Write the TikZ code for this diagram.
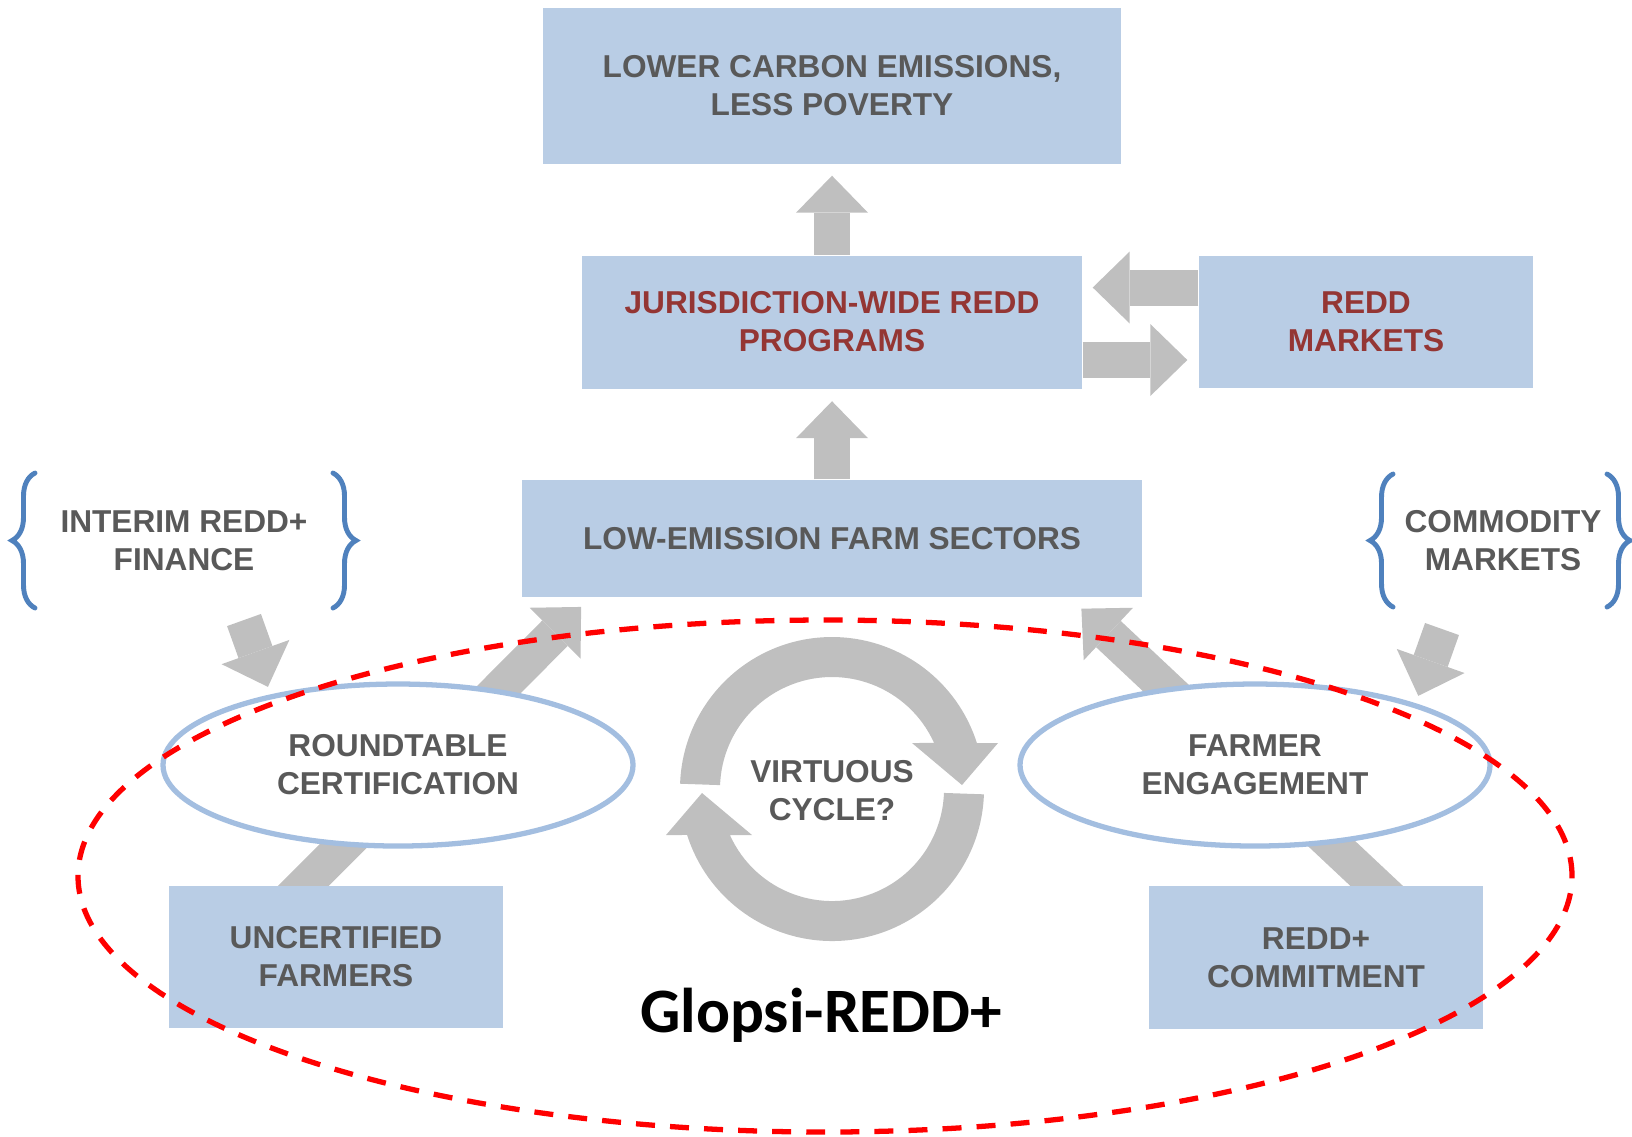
\documentclass[tikz,border=0pt]{standalone}
\usepackage{fontspec}
\setmainfont{Liberation Sans}
\newfontfamily\glopsifont{Carlito}
\usetikzlibrary{arrows.meta,decorations.pathreplacing,shapes.geometric,backgrounds}
\definecolor{boxblue}{HTML}{B9CDE5}
\definecolor{textgray}{HTML}{595959}
\definecolor{textred}{HTML}{943634}
\definecolor{arrowgray}{HTML}{BFBFBF}
\definecolor{bracecol}{HTML}{4F81BD}
\definecolor{ringblue}{HTML}{A3BEE0}

\begin{document}
\begin{tikzpicture}[
    box/.style={rectangle, fill=boxblue, inner sep=0pt, align=center, text=textgray, font=\fontsize{9}{10.8}\selectfont\bfseries},
    redbox/.style={box, text=textred},
    oval/.style={ellipse, draw=ringblue, line width=1.5pt, fill=white, minimum width=4.7cm, minimum height=1.62cm, inner sep=0pt, align=center, text=textgray, font=\fontsize{9}{10.8}\selectfont\bfseries},
    lbl/.style={align=center, inner sep=0pt, text=textgray, font=\fontsize{9}{10.8}\selectfont\bfseries},
    fatarrow/.style={draw=arrowgray, line width=0.36cm, -{Triangle[width=0.72cm,length=0.37cm,line width=0pt]}},
    curly/.style={draw=bracecol, line width=1.4pt, line cap=round, decorate, decoration={brace, amplitude=0.23cm}},
    redoval/.style={draw=red, line width=1.5pt, dash pattern=on 5.4pt off 4.3pt}
]
    \useasboundingbox (0,0) rectangle (16.32,-11.36);
    \node [box, minimum width=5.78cm, minimum height=1.56cm] (top) at (8.32,-0.86) {LOWER CARBON EMISSIONS,\\LESS POVERTY};
    \node [redbox, minimum width=5.00cm, minimum height=1.33cm] (jur) at (8.32,-3.22) {JURISDICTION-WIDE REDD\\PROGRAMS};
    \node [redbox, minimum width=3.34cm, minimum height=1.32cm] (mkt) at (13.66,-3.22) {REDD\\MARKETS};
    \node [box, minimum width=6.20cm, minimum height=1.17cm] (low) at (8.32,-5.385) {LOW-EMISSION FARM SECTORS};
    \node [box, minimum width=3.34cm, minimum height=1.42cm] (unc) at (3.36,-9.57) {UNCERTIFIED\\FARMERS};
    \node [box, minimum width=3.34cm, minimum height=1.43cm] (com) at (13.16,-9.575) {REDD+\\COMMITMENT};
    \node [lbl] (fin) at (1.84,-5.41) {INTERIM REDD+\\FINANCE};
    \node [lbl] (cmk) at (15.03,-5.41) {COMMODITY\\MARKETS};
    \draw [curly] (0.35,-6.08) -- (0.35,-4.73);
    \draw [curly] (3.33,-4.73) -- (3.33,-6.08);
    \draw [curly] (13.93,-6.07) -- (13.93,-4.74);
    \draw [curly] (16.07,-4.74) -- (16.07,-6.07);
    \draw [fatarrow, shorten >=0.11cm] (jur.north) -- (top.south);
    \draw [fatarrow, shorten >=0.12cm] (low.north) -- (jur.south);
    \draw [fatarrow, shorten >=0.11cm] ([yshift=-0.38cm]jur.east) -- ([yshift=-0.38cm]mkt.west);
    \draw [fatarrow, shorten >=0.10cm] ([yshift=0.345cm]mkt.west) -- ([yshift=0.345cm]jur.east);
    \begin{pgfonlayer}{background}
        \draw [fatarrow, shorten <=-0.3cm, shorten >=0.13cm] ([xshift=-0.32cm]unc.north) -- ([xshift=0.69cm]low.south west);
        \draw [fatarrow, shorten <=-0.3cm, shorten >=0.16cm] ([xshift=0.60cm]com.north) -- ([xshift=-0.73cm]low.south east);
    \end{pgfonlayer}
    \node [oval] (rt) at (3.98,-7.65) {ROUNDTABLE\\CERTIFICATION};
    \node [oval] (fe) at (12.55,-7.65) {FARMER\\ENGAGEMENT};
    \coordinate (finA) at (2.44,-6.20);
    \coordinate (cmkA) at (14.42,-6.29);
    \draw [fatarrow, shorten >=0.08cm] (finA) -- (rt.151.6);
    \draw [fatarrow, shorten >=0.08cm] (cmkA) -- (fe.21.5);
    \coordinate (cyc) at (8.32,-7.89);
    \foreach \ang in {0,180} {
        \begin{scope}[shift={(cyc)}, rotate=\ang]
            \fill [arrowgray] (178:1.52) arc [start angle=178, end angle=17.6, radius=1.52]
                -- (1.66,0.46) -- (1.30,0.04) -- (0.80,0.46) -- (24.3:1.12)
                arc [start angle=24.3, end angle=178, radius=1.12] -- cycle;
        \end{scope}
    }
    \node [lbl] (vc) at (8.32,-7.91) {VIRTUOUS\\CYCLE?};
    \draw [redoval] (8.25,-8.76) ellipse [x radius=7.47, y radius=2.56];
    \node [inner sep=0pt, font=\glopsifont\fontsize{18}{21}\selectfont\bfseries] (glopsi) at (8.21,-10.15) {Glopsi-REDD+};
\end{tikzpicture}
\end{document}
